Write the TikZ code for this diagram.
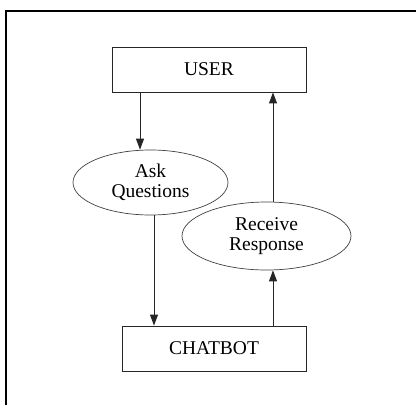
\documentclass[tikz,border=0pt]{standalone}
\usepackage{fontspec}
\setmainfont{Liberation Serif}
\usetikzlibrary{arrows.meta,shapes.geometric}
\begin{document}
\begin{tikzpicture}[x=1pt,y=-1pt,
  font=\fontsize{19.5}{20}\selectfont,
  entity/.style={draw=black!85,line width=0.9pt,minimum width=194pt,minimum height=45pt,inner sep=0pt},
  process/.style={draw=black!75,line width=0.7pt,ellipse,inner sep=0pt,align=center},
  flow/.style={draw=black!85,line width=1pt,-{Triangle[width=8pt,length=11pt]}}]
  \useasboundingbox (0,0) rectangle (416,405);
  % partial outer frame
  \draw[line width=2.2pt] (6,405) -- (6,11) -- (416,11);
  % entities
  \node[entity] (user) at (209,69.5) {USER};
  \node[entity,minimum width=184pt] (bot) at (214,348.5) {CHATBOT};
  % processes
  \node[process,minimum width=155pt,minimum height=65pt] (ask) at (150.5,182.5) {Ask\\Questions};
  \node[process,minimum width=169pt,minimum height=68pt] (recv) at (266.5,236) {Receive\\Response};
  % flows
  \draw[flow] (user.south -| 140,0) -- (ask.north -| 140,0);
  \draw[flow] (ask.south -| 154,0) -- (bot.north -| 154,0);
  \draw[flow] (bot.north -| 273,0) -- (recv.south -| 273,0);
  \draw[flow] (recv.north -| 273,0) -- (user.south -| 273,0);
\end{tikzpicture}
\end{document}
